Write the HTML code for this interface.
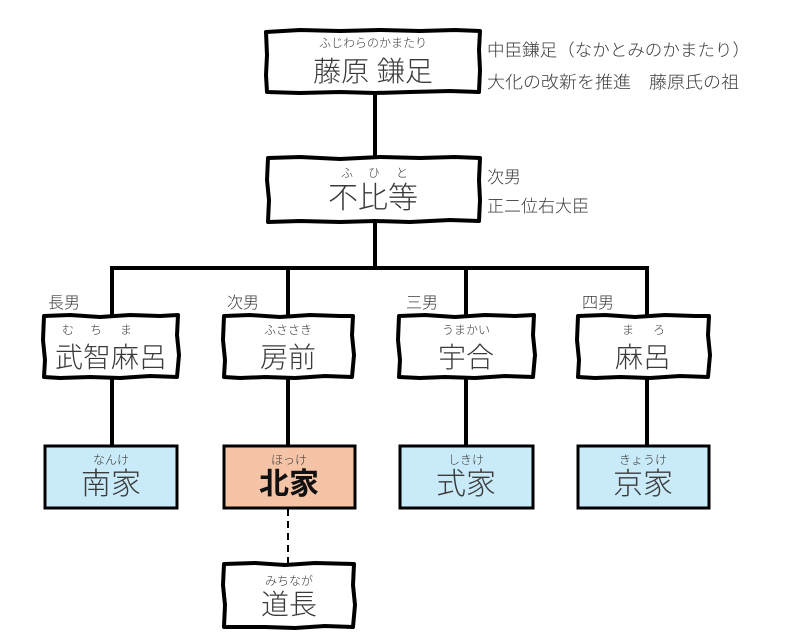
<!DOCTYPE html>
<html><head><meta charset="utf-8">
<style>
html,body{margin:0;padding:0;background:#fff;}
svg{display:block;}
text{font-family:"Liberation Sans","Noto Sans CJK JP",sans-serif;fill:#3a3a3a;font-weight:300;}
.f{font-size:12px;}
.m{font-size:28px;}
.l{font-size:16px;}
.r{font-size:17px;}
</style></head>
<body>
<svg width="800" height="634" viewBox="0 0 800 634" xmlns="http://www.w3.org/2000/svg">
<g stroke="#000" stroke-width="4" fill="none">
  <line x1="375" y1="93" x2="375" y2="158"/>
  <line x1="375" y1="222" x2="375" y2="268"/>
  <line x1="110" y1="268" x2="649" y2="268"/>
  <line x1="112" y1="268" x2="112" y2="316"/>
  <line x1="288" y1="268" x2="288" y2="316"/>
  <line x1="466" y1="268" x2="466" y2="316"/>
  <line x1="647" y1="268" x2="647" y2="316"/>
  <line x1="112" y1="378" x2="112" y2="446"/>
  <line x1="288" y1="378" x2="288" y2="446"/>
  <line x1="466" y1="378" x2="466" y2="446"/>
  <line x1="647" y1="378" x2="647" y2="446"/>
</g>
<line x1="288" y1="509" x2="288" y2="564" stroke="#000" stroke-width="2" stroke-dasharray="7,5"/>

<rect x="45" y="446" width="132" height="62" fill="#c9eaf9" stroke="#000" stroke-width="3"/>
<rect x="224" y="446" width="131" height="62" fill="#f5c4a7" stroke="#000" stroke-width="3"/>
<rect x="400" y="446" width="133" height="62" fill="#c9eaf9" stroke="#000" stroke-width="3"/>
<rect x="578" y="446" width="131" height="62" fill="#c9eaf9" stroke="#000" stroke-width="3"/>

<g stroke="#000" stroke-width="4" fill="#fff" stroke-linejoin="round">
  <path d="M266,32 L300,30 L340,31 L380,30 L420,31 L455,30 L480,31 L479,50 L480,70 L479,92 L450,91 L410,92 L375,93 L340,92 L300,93 L267,92 L266,75 L267,55 Z"/>
  <path d="M268,158 L300,157 L340,159 L380,157 L420,158 L455,157 L480,158 L479,180 L480,200 L479,221 L450,220 L410,222 L375,221 L340,222 L300,221 L268,222 L269,200 L267,180 Z"/>
  <path d="M44,316 L70,315 L100,317 L130,315 L160,316 L178,315 L177,335 L179,355 L177,377 L150,376 L120,378 L90,377 L60,378 L44,377 L45,360 L43,340 Z"/>
  <path d="M224,316 L250,315 L280,317 L310,315 L340,316 L353,316 L352,335 L354,355 L352,377 L325,376 L295,378 L265,377 L240,378 L224,377 L225,360 L223,340 Z"/>
  <path d="M399,316 L425,315 L455,317 L485,315 L515,316 L534,315 L533,335 L535,355 L533,377 L505,376 L475,378 L445,377 L420,378 L399,377 L400,360 L398,340 Z"/>
  <path d="M578,316 L605,315 L635,317 L665,315 L695,316 L709,316 L708,335 L710,355 L708,377 L680,376 L650,378 L620,377 L595,378 L578,377 L579,360 L577,340 Z"/>
  <path d="M224,564 L255,563 L285,565 L315,563 L354,564 L353,585 L355,605 L353,627 L325,626 L295,628 L265,627 L224,627 L225,605 L223,585 Z"/>
</g>

<text class="f" x="373" y="47" text-anchor="middle">ふじわらのかまたり</text>
<text class="m" x="373" y="81" text-anchor="middle">藤原 鎌足</text>
<text class="r" x="487" y="56" textLength="263" lengthAdjust="spacingAndGlyphs">中臣鎌足（なかとみのかまたり）</text>
<text class="r" x="487" y="88" textLength="252" lengthAdjust="spacingAndGlyphs">大化の改新を推進　藤原氏の祖</text>

<text class="f" x="347" y="177" text-anchor="middle">ふ</text>
<text class="f" x="374" y="177" text-anchor="middle">ひ</text>
<text class="f" x="402" y="177" text-anchor="middle">と</text>
<text x="373" y="208" text-anchor="middle" style="font-size:30px">不比等</text>
<text class="r" x="487" y="183">次男</text>
<text class="r" x="487" y="212">正二位右大臣</text>

<text class="l" x="48" y="308">長男</text>
<text class="l" x="227" y="308">次男</text>
<text class="l" x="406" y="308">三男</text>
<text class="l" x="582" y="308">四男</text>

<text class="f" x="68" y="334" text-anchor="middle">む</text>
<text class="f" x="96" y="334" text-anchor="middle">ち</text>
<text class="f" x="126" y="334" text-anchor="middle">ま</text>
<text class="m" x="111" y="367" text-anchor="middle">武智麻呂</text>

<text class="f" x="288" y="334" text-anchor="middle">ふささき</text>
<text class="m" x="288" y="367" text-anchor="middle">房前</text>

<text class="f" x="466" y="334" text-anchor="middle">うまかい</text>
<text class="m" x="466" y="367" text-anchor="middle">宇合</text>

<text class="f" x="628" y="334" text-anchor="middle">ま</text>
<text class="f" x="659" y="334" text-anchor="middle">ろ</text>
<text class="m" x="643" y="367" text-anchor="middle">麻呂</text>

<text class="f" x="111" y="464" text-anchor="middle">なんけ</text>
<text x="111" y="494" text-anchor="middle" style="font-size:30px">南家</text>
<text class="f" x="289" y="464" text-anchor="middle">ほっけ</text>
<text x="289" y="494" text-anchor="middle" style="font-size:30px;font-weight:bold;fill:#111">北家</text>
<text class="f" x="466" y="464" text-anchor="middle">しきけ</text>
<text x="466" y="494" text-anchor="middle" style="font-size:30px">式家</text>
<text class="f" x="643" y="464" text-anchor="middle">きょうけ</text>
<text x="643" y="494" text-anchor="middle" style="font-size:30px">京家</text>

<text class="f" x="289" y="585" text-anchor="middle">みちなが</text>
<text class="m" x="289" y="614" text-anchor="middle">道長</text>
</svg>
</body></html>
